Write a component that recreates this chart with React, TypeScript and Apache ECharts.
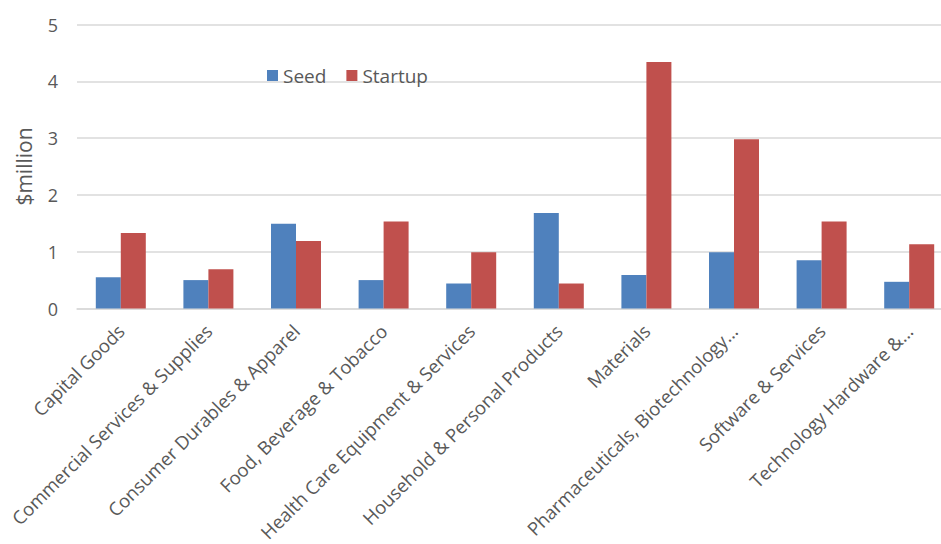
import React, { useEffect, useRef } from "react";
import * as echarts from "echarts";

const categories = [
  "Capital Goods",
  "Commercial Services & Supplies",
  "Consumer Durables & Apparel",
  "Food, Beverage & Tobacco",
  "Health Care Equipment & Services",
  "Household & Personal Products",
  "Materials",
  "Pharmaceuticals, Biotechnology...",
  "Software & Services",
  "Technology Hardware &...",
];
const seedValues = [0.55, 0.5, 1.49, 0.5, 0.44, 1.68, 0.59, 0.99, 0.85, 0.47];
const startupValues = [1.33, 0.69, 1.19, 1.53, 0.99, 0.44, 4.34, 2.98, 1.53, 1.13];
const yTicks = [0, 1, 2, 3, 4, 5];

const FONT = "'Open Sans', sans-serif";
const TEXT = "#595959";

export default function App() {
  const ref = useRef<HTMLDivElement>(null);
  useEffect(() => {
    if (!ref.current) return;
    const chart = echarts.init(ref.current, undefined, { renderer: "svg" });
    chart.setOption({
      animation: false,
      backgroundColor: "#ffffff",
      textStyle: { fontFamily: FONT },
      legend: {
        left: 262,
        top: 61,
        itemWidth: 11,
        itemHeight: 11,
        itemGap: 20,
        icon: "rect",
        textStyle: { color: TEXT, fontSize: 19, fontFamily: FONT },
        data: ["Seed", "Startup"],
      },
      grid: {
        left: 77,
        top: 24.5,
        width: 876,
        height: 284,
        containLabel: false,
        outerBoundsMode: "none",
      },
      xAxis: {
        type: "category",
        data: categories,
        axisTick: { show: false },
        axisLine: { lineStyle: { color: "#D9D9D9", width: 1.5 } },
        axisLabel: {
          rotate: 45,
          interval: 0,
          margin: 19,
          color: TEXT,
          fontSize: 18.5,
          fontFamily: FONT,
        },
      },
      yAxis: {
        type: "value",
        min: yTicks[0],
        max: yTicks[yTicks.length - 1],
        interval: 1,
        name: "$million",
        nameLocation: "middle",
        nameGap: 43,
        nameTextStyle: { color: TEXT, fontSize: 21, fontFamily: FONT },
        axisLine: { show: false },
        axisTick: { show: false },
        axisLabel: { color: TEXT, fontSize: 18, margin: 19, fontFamily: FONT },
        splitLine: { lineStyle: { color: "#D9D9D9", width: 1.5 } },
      },
      series: [
        {
          name: "Seed",
          type: "bar",
          data: seedValues,
          barWidth: 25,
          barGap: "0%",
          itemStyle: { color: "#4F81BD" },
        },
        {
          name: "Startup",
          type: "bar",
          data: startupValues,
          barWidth: 25,
          barGap: "0%",
          itemStyle: { color: "#C0504D" },
        },
      ],
    });
    return () => chart.dispose();
  }, []);
  return (
    <div
      ref={ref}
      style={{ position: "fixed", left: 0, top: 0, width: 941, height: 544 }}
    />
  );
}
